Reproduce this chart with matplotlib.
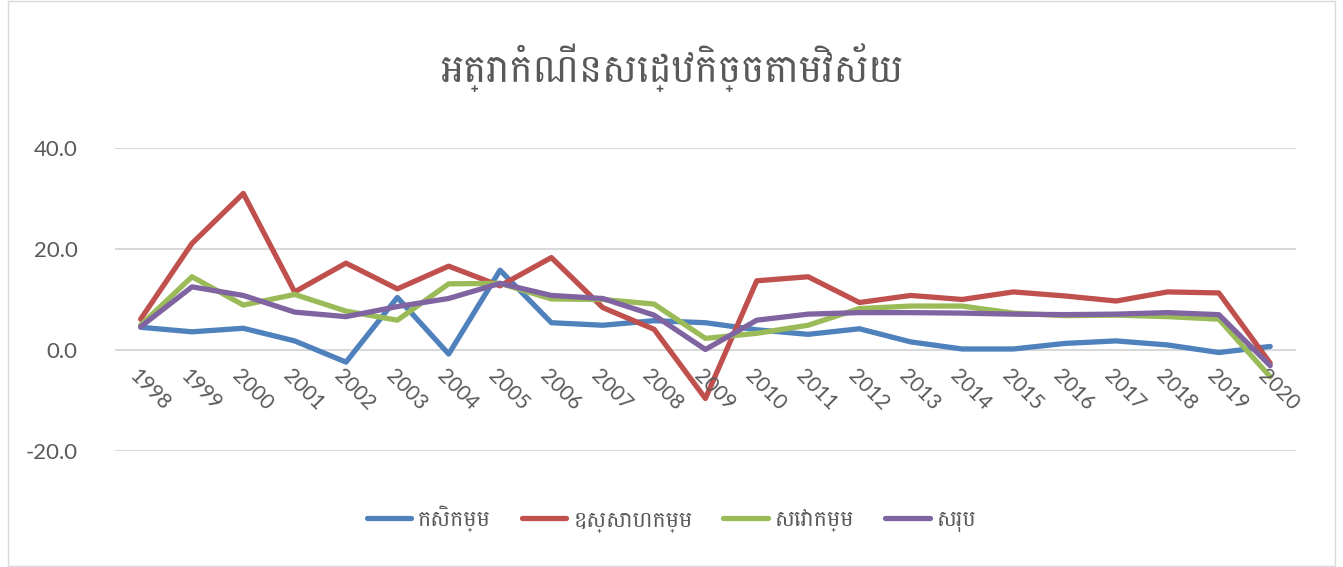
import matplotlib
matplotlib.use("Agg")
import matplotlib.pyplot as plt
from matplotlib import font_manager
from matplotlib.patches import Rectangle
from matplotlib.ft2font import FT2Font

# pick a font with Khmer glyphs, preferring a proportional one
khmer = []
for f in font_manager.fontManager.ttflist:
    try:
        if 0x1780 in FT2Font(f.fname).get_charmap() and 'Unifont' not in f.name:
            khmer.append(f.name)
    except Exception:
        pass
pick = [n for n in ['Battambang', 'Khmer OS Battambang', 'Noto Sans Khmer', 'Hanuman', 'Angkor']
        if n in khmer] + khmer
plt.rcParams['font.family'] = ['Lato'] + pick[:1] + ['DejaVu Sans']

# data
years = list(range(1998, 2021))
kasikam = [4.5, 3.6, 4.3, 1.8, -2.4, 10.4, -0.8, 15.8, 5.4, 4.9, 5.8, 5.4, 4.0,
           3.1, 4.2, 1.6, 0.2, 0.2, 1.3, 1.8, 1.0, -0.5, 0.7]
ossahakam = [6.1, 21.1, 31.0, 11.5, 17.2, 12.1, 16.6, 12.7, 18.3, 8.4, 4.1, -9.6, 13.7,
             14.5, 9.4, 10.8, 10.0, 11.5, 10.7, 9.7, 11.5, 11.3, -2.6]
sevakam = [4.9, 14.5, 8.9, 11.0, 7.7, 5.9, 13.1, 13.2, 10.1, 10.0, 9.1, 2.3, 3.3,
           4.9, 8.2, 8.7, 8.7, 7.3, 6.8, 6.9, 6.6, 6.1, -5.3]
sarub = [4.6, 12.5, 10.8, 7.5, 6.6, 8.6, 10.2, 13.2, 10.8, 10.2, 6.9, 0.1, 5.9,
         7.1, 7.4, 7.4, 7.3, 7.1, 7.0, 7.1, 7.4, 7.0, -3.1]
names = ["កសិកម្ម", "ឧស្សាហកម្ម", "សេវាកម្ម", "សរុប"]
title = "អត្រាកំណើនសេដ្ឋកិច្ចតាមវិស័យ"
colors = ["#4F81BD", "#C0504D", "#9BBB59", "#8064A2"]
series = [kasikam, ossahakam, sevakam, sarub]

fig = plt.figure(figsize=(13.43, 5.67), dpi=100)
ax = fig.add_axes([0.0856, 0.2046, 0.8793, 0.5344])

for vals, name, c in zip(series, names, colors):
    ax.plot(years, vals, color=c, linewidth=3.8, label=name, solid_capstyle='round')

ax.set_xlim(1997.5, 2020.5)
ax.set_ylim(-20, 40)
ax.set_yticks([-20, 0, 20, 40])
ax.set_yticklabels([f"{v:.1f}" for v in [-20, 0, 20, 40]])
ax.grid(axis='y', color='#D9D9D9', linewidth=1.5)
ax.set_axisbelow(True)
for s in ax.spines.values():
    s.set_visible(False)
ax.tick_params(axis='y', length=0, labelsize=16, labelcolor='#595959', pad=27)
ax.set_xticks([])

# category labels sit under the zero line
for y in years:
    ax.annotate(str(y), (y, 0), xytext=(-1, -11), textcoords='offset points',
                rotation=-45, ha='left', va='top', fontsize=15, color='#595959',
                rotation_mode='anchor')

fig.text(0.5, 0.88, title, ha='center', va='center', fontsize=28, color='#595959')

ax.legend(loc='center', bbox_to_anchor=(0.5, 0.085), bbox_transform=fig.transFigure,
          ncol=4, frameon=False, fontsize=16, handlelength=2.0, columnspacing=1.4,
          handletextpad=0.3, labelcolor='#595959')

fig.patches.append(Rectangle((0.006, 0.002), 0.988, 0.996, transform=fig.transFigure,
                             fill=False, edgecolor='#D9D9D9', linewidth=1))

fig.savefig("out.png", dpi=100)
